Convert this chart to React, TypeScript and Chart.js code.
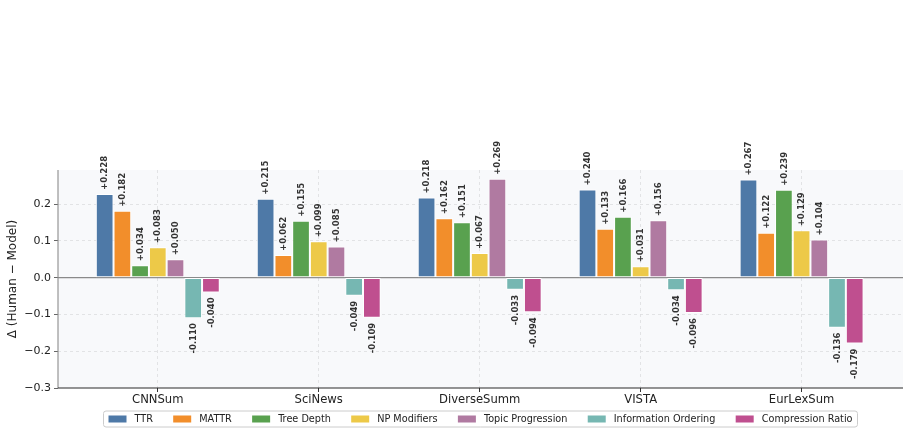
import React, { useEffect, useRef } from "react";
import { Chart, registerables } from "chart.js";

Chart.register(...registerables);

// Corpora on the x axis and the seven stylistic metrics (one bar each per corpus)
const CATEGORIES = ["CNNSum", "SciNews", "DiverseSumm", "VISTA", "EurLexSum"];
const METRICS = [
  "TTR",
  "MATTR",
  "Tree Depth",
  "NP Modifiers",
  "Topic Progression",
  "Information Ordering",
  "Compression Ratio",
];

// Δ (Human − Model) per corpus, in CATEGORIES order
const TTR = [0.228, 0.215, 0.218, 0.24, 0.267];
const MATTR = [0.182, 0.062, 0.162, 0.133, 0.122];
const TREE_DEPTH = [0.034, 0.155, 0.151, 0.166, 0.239];
const NP_MODIFIERS = [0.083, 0.099, 0.067, 0.031, 0.129];
const TOPIC_PROGRESSION = [0.05, 0.085, 0.269, 0.156, 0.104];
const INFORMATION_ORDERING = [-0.11, -0.049, -0.033, -0.034, -0.136];
const COMPRESSION_RATIO = [-0.04, -0.109, -0.094, -0.096, -0.179];

const SERIES = [
  TTR,
  MATTR,
  TREE_DEPTH,
  NP_MODIFIERS,
  TOPIC_PROGRESSION,
  INFORMATION_ORDERING,
  COMPRESSION_RATIO,
];

const Y_TICKS = [-0.3, -0.2, -0.1, 0.0, 0.1, 0.2];
const Y_MIN = -0.3;
const Y_MAX = 0.293;

const COLORS = [
  "#4e79a7",
  "#f28e2b",
  "#59a14f",
  "#edc948",
  "#b07aa1",
  "#76b7b2",
  "#bf4f8f",
];

const FONT = "'DejaVu Sans', 'Liberation Sans', sans-serif";

const formatTick = (v: number) => {
  const s = Math.abs(v).toFixed(1);
  return v < -1e-9 ? "\u2212" + s : s;
};

const formatValue = (v: number) => (v >= 0 ? "+" : "-") + Math.abs(v).toFixed(3);

// Axes background, zero line, spines, value labels and the framed legend
const decorPlugin = {
  id: "decor",
  beforeDraw(chart: any) {
    const { ctx, chartArea, width, height } = chart;
    ctx.save();
    ctx.fillStyle = "#ffffff";
    ctx.fillRect(0, 0, width, height);
    ctx.fillStyle = "#f8f9fb";
    ctx.fillRect(chartArea.left, chartArea.top, chartArea.right - chartArea.left, chartArea.bottom - chartArea.top);
    ctx.restore();
  },
  beforeDatasetsDraw(chart: any) {
    const { ctx, chartArea, scales } = chart;
    const y0 = scales.y.getPixelForValue(0);
    ctx.save();
    ctx.strokeStyle = "#8a8a8a";
    ctx.lineWidth = 1.2;
    ctx.beginPath();
    ctx.moveTo(chartArea.left, y0);
    ctx.lineTo(chartArea.right, y0);
    ctx.stroke();
    ctx.restore();
  },
  afterDatasetsDraw(chart: any) {
    const { ctx, chartArea } = chart;
    ctx.save();
    // spines
    ctx.lineWidth = 1.1;
    ctx.strokeStyle = "#8c8c8c";
    ctx.beginPath();
    ctx.moveTo(chartArea.left, chartArea.top);
    ctx.lineTo(chartArea.left, chartArea.bottom);
    ctx.stroke();
    ctx.strokeStyle = "#2b2b2b";
    ctx.beginPath();
    ctx.moveTo(chartArea.left, chartArea.bottom);
    ctx.lineTo(chartArea.right, chartArea.bottom);
    ctx.stroke();

    // value labels, rotated
    ctx.font = `bold 8.5px ${FONT}`;
    ctx.fillStyle = "#333333";
    ctx.textBaseline = "middle";
    chart.data.datasets.forEach((ds: any, di: number) => {
      const meta = chart.getDatasetMeta(di);
      meta.data.forEach((el: any, i: number) => {
        const v = ds.data[i].y;
        ctx.save();
        if (v >= 0) {
          ctx.translate(el.x, el.y - 4);
          ctx.rotate(-Math.PI / 2);
          ctx.textAlign = "left";
        } else {
          ctx.translate(el.x, el.y + 5);
          ctx.rotate(-Math.PI / 2);
          ctx.textAlign = "right";
        }
        ctx.fillText(formatValue(v), 0, 0.5);
        ctx.restore();
      });
    });
    ctx.restore();
  },
  afterDraw(chart: any) {
    const { ctx, chartArea } = chart;
    const fontPx = 9.7;
    const handle = 18;
    const handlePad = 8;
    const colSpace = 20.3;
    const padX = 5;
    ctx.save();
    ctx.font = `${fontPx}px ${FONT}`;
    const widths = METRICS.map((m) => ctx.measureText(m).width);
    const inner =
      widths.reduce((a, w) => a + handle + handlePad + w, 0) + colSpace * (METRICS.length - 1);
    const total = inner + padX * 2;
    const cx = (chartArea.left + chartArea.right) / 2;
    const x0 = cx - total / 2;
    const top = chartArea.bottom + 23;
    const h = 16;
    const r = 2.5;
    ctx.beginPath();
    ctx.moveTo(x0 + r, top);
    ctx.lineTo(x0 + total - r, top);
    ctx.arcTo(x0 + total, top, x0 + total, top + r, r);
    ctx.lineTo(x0 + total, top + h - r);
    ctx.arcTo(x0 + total, top + h, x0 + total - r, top + h, r);
    ctx.lineTo(x0 + r, top + h);
    ctx.arcTo(x0, top + h, x0, top + h - r, r);
    ctx.lineTo(x0, top + r);
    ctx.arcTo(x0, top, x0 + r, top, r);
    ctx.closePath();
    ctx.fillStyle = "rgba(255,255,255,0.85)";
    ctx.fill();
    ctx.strokeStyle = "#cccccc";
    ctx.lineWidth = 1;
    ctx.stroke();

    const cy = top + h / 2;
    let x = x0 + padX;
    ctx.textBaseline = "middle";
    ctx.textAlign = "left";
    METRICS.forEach((m, i) => {
      ctx.fillStyle = COLORS[i];
      ctx.fillRect(x, cy - 3.5, handle, 7);
      ctx.fillStyle = "#222222";
      ctx.fillText(m, x + handle + handlePad, cy + 0.5);
      x += handle + handlePad + widths[i] + colSpace;
    });
    ctx.restore();
  },
};

export default function App() {
  const canvasRef = useRef<HTMLCanvasElement | null>(null);

  useEffect(() => {
    const canvas = canvasRef.current;
    if (!canvas) return;
    Chart.defaults.font.family = FONT;

    const datasets = METRICS.map((name, di) => ({
      label: name,
      data: CATEGORIES.map((_, i) => ({ x: i, y: SERIES[di][i] })),
      backgroundColor: COLORS[di],
      borderColor: "#ffffff",
      borderWidth: 1,
      borderSkipped: false as const,
      categoryPercentage: 0.77,
      barPercentage: 1.0,
    }));

    const chart = new Chart(canvas, {
      type: "bar",
      data: { datasets },
      plugins: [decorPlugin],
      options: {
        animation: false,
        responsive: false,
        devicePixelRatio: 1,
        layout: { padding: { top: 170, right: 6, bottom: 26, left: 0 } },
        plugins: {
          legend: { display: false },
          tooltip: { enabled: false },
          title: { display: false },
        },
        scales: {
          x: {
            type: "linear",
            min: -0.62,
            max: 4.63,
            offset: false,
            afterBuildTicks: (scale: any) => {
              scale.ticks = CATEGORIES.map((_, i) => ({ value: i }));
            },
            afterFit: (scale: any) => {
              scale.height = 20;
            },
            ticks: {
              autoSkip: false,
              maxRotation: 0,
              minRotation: 0,
              padding: 1,
              color: "#222222",
              font: { size: 11.6 },
              callback: (v: any) => CATEGORIES[Math.round(Number(v))] ?? "",
            },
            grid: {
              offset: false,
              color: "#dcdde0",
              lineWidth: 0.8,
              drawTicks: true,
              tickLength: 4,
              tickColor: "#333333",
              tickWidth: 1,
              tickBorderDash: [],
            },
            border: { display: false, dash: [3, 3] },
          },
          y: {
            type: "linear",
            min: Y_MIN,
            max: Y_MAX,
            afterBuildTicks: (scale: any) => {
              scale.ticks = Y_TICKS.map((v) => ({ value: v }));
            },
            afterFit: (scale: any) => {
              scale.width = 58;
            },
            ticks: {
              padding: 3,
              color: "#222222",
              font: { size: 11 },
              callback: (v: any) => formatTick(Number(v)),
            },
            grid: {
              color: (ctx: any) => {
                const v = ctx.tick ? ctx.tick.value : null;
                if (v === null) return "#dcdde0";
                if (Math.abs(v) < 1e-9 || Math.abs(v - Y_MIN) < 1e-9) return "rgba(0,0,0,0)";
                return "#dcdde0";
              },
              lineWidth: 0.8,
              drawTicks: true,
              tickLength: 4,
              tickColor: "#666666",
              tickWidth: 1,
              tickBorderDash: [],
            },
            border: { display: false, dash: [3, 3] },
            title: {
              display: true,
              text: "\u0394 (Human \u2212 Model)",
              color: "#222222",
              font: { size: 12 },
              padding: { top: 6, bottom: 0 },
            },
          },
        },
      } as any,
    });

    return () => chart.destroy();
  }, []);

  return (
    <div style={{ position: "fixed", left: 0, top: 0, width: 909, height: 434, background: "#ffffff" }}>
      <canvas ref={canvasRef} width={909} height={434} style={{ display: "block" }} />
    </div>
  );
}
